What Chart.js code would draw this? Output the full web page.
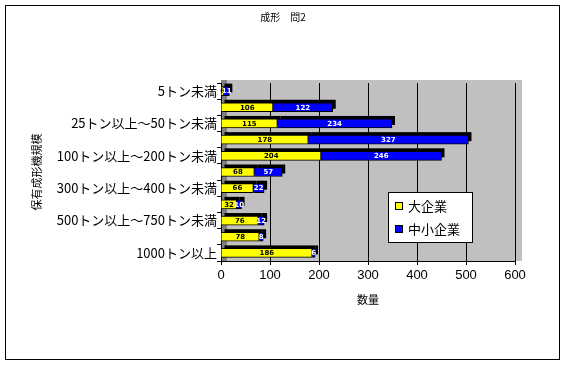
<!DOCTYPE html>
<html>
<head>
<meta charset="utf-8">
<script src="https://cdn.jsdelivr.net/npm/chart.js@4"></script>
<style>
  html, body { margin: 0; padding: 0; background: #fff; }
  #wrap { width: 566px; height: 367px; }
</style>
</head>
<body>
<div id="wrap"><canvas id="chart" width="566" height="367"></canvas></div>
<script>
// データ
const categories = [
    '5トン未満', '5トン以上～25トン未満', '25トン以上～50トン未満', '50トン以上～100トン未満',
    '100トン以上～200トン未満', '200トン以上～300トン未満', '300トン以上～400トン未満',
    '400トン以上～500トン未満', '500トン以上～750トン未満', '750トン以上～1000トン未満', '1000トン以上'
];
const largeFirms = [6, 106, 115, 178, 204, 68, 66, 32, 76, 78, 186];
const smallFirms = [11, 122, 234, 327, 246, 57, 22, 10, 12, 8, 6];
const xTicks = [0, 100, 200, 300, 400, 500, 600];
const chartTitle = '成形　問2';

const JP = '"Noto Sans CJK JP", "DejaVu Sans", sans-serif';

// 枠・背景・ラベル・凡例
const framePlugin = {
    id: 'frame',
    beforeDraw(chart) {
        const { ctx, chartArea: a } = chart;
        ctx.save();
        ctx.fillStyle = '#fff';
        ctx.fillRect(0, 0, chart.width, chart.height);
        ctx.strokeStyle = '#000';
        ctx.lineWidth = 1;
        ctx.strokeRect(5.5, 5.5, 554, 354);
        // タイトル
        ctx.fillStyle = '#000';
        ctx.font = '10px ' + JP;
        ctx.textAlign = 'center';
        ctx.textBaseline = 'middle';
        ctx.fillText(chartTitle, 283, 17);
        // 壁
        ctx.fillStyle = '#c0c0c0';
        ctx.fillRect(a.left, a.top - 3, a.right - a.left + 7, a.bottom - a.top + 3);
        ctx.fillStyle = '#808080';
        ctx.fillRect(a.left, a.top - 3, 6, a.bottom - a.top + 3);
        ctx.restore();
    },
    beforeDatasetsDraw(chart) {
        // 立体の影
        const { ctx } = chart;
        ctx.save();
        ctx.fillStyle = '#000';
        chart.data.datasets.forEach((ds, di) => {
            chart.getDatasetMeta(di).data.forEach(bar => {
                const h = bar.height;
                const x0 = Math.min(bar.base, bar.x);
                const w = Math.abs(bar.x - bar.base);
                ctx.fillRect(x0 + 3, bar.y - h / 2 - 3, w, h);
            });
        });
        ctx.restore();
    },
    afterDatasetsDraw(chart) {
        // 値ラベル
        const { ctx } = chart;
        ctx.save();
        ctx.font = 'bold 7px "DejaVu Sans", sans-serif';
        ctx.textAlign = 'center';
        ctx.textBaseline = 'middle';
        chart.data.datasets.forEach((ds, di) => {
            ctx.fillStyle = di === 0 ? '#000' : '#fff';
            chart.getDatasetMeta(di).data.forEach((bar, i) => {
                const cx = (bar.base + bar.x) / 2;
                ctx.fillText(String(ds.data[i]), cx, bar.y + 0.5);
            });
        });
        ctx.restore();
    },
    afterDraw(chart) {
        // 凡例
        const { ctx } = chart;
        ctx.save();
        ctx.fillStyle = '#fff';
        ctx.fillRect(388, 192, 84, 50);
        ctx.strokeStyle = '#000';
        ctx.lineWidth = 1;
        ctx.strokeRect(388.5, 192.5, 84, 50);
        ctx.font = '13px ' + JP;
        ctx.textBaseline = 'middle';
        chart.data.datasets.forEach((ds, i) => {
            const y = 206 + i * 23;
            ctx.fillStyle = ds.backgroundColor;
            ctx.fillRect(395, y - 4, 8, 8);
            ctx.strokeRect(395.5, y - 3.5, 7, 7);
            ctx.fillStyle = '#000';
            ctx.fillText(ds.label, 408, y);
        });
        ctx.restore();
    }
};

new Chart(document.getElementById('chart'), {
    type: 'bar',
    data: {
        labels: categories,
        datasets: [
            { label: '大企業', data: largeFirms, backgroundColor: '#ffff00', borderColor: '#000', borderWidth: 1, barThickness: 9 },
            { label: '中小企業', data: smallFirms, backgroundColor: '#0000ff', borderColor: '#000', borderWidth: 1, barThickness: 9 }
        ]
    },
    options: {
        indexAxis: 'y',
        responsive: false,
        animation: false,
        layout: { padding: { top: 83, right: 51, bottom: 60, left: 0 } },
        plugins: {
            legend: { display: false },
            tooltip: { enabled: false },
            title: { display: false }
        },
        scales: {
            x: {
                stacked: true,
                min: 0,
                max: 600,
                afterBuildTicks: (scale) => { scale.ticks = xTicks.map(v => ({ value: v })); },
                afterFit: (scale) => { scale.height = 46; },
                ticks: { color: '#000', font: { family: '"Liberation Sans", sans-serif', size: 13 }, padding: 3 },
                grid: { color: '#000', tickLength: 4, drawOnChartArea: true },
                border: { color: '#000' },
                title: {
                    display: true,
                    text: '数量',
                    color: '#000',
                    font: { family: JP, size: 11 },
                    padding: { top: 0, bottom: 1 }
                }
            },
            y: {
                stacked: true,
                afterFit: (scale) => { scale.width = 221; },
                ticks: {
                    autoSkip: false,
                    color: '#000',
                    padding: 0,
                    font: { family: JP, size: 13 },
                    callback: (v, i) => (i % 2 === 0 ? categories[i] : '')
                },
                grid: { drawOnChartArea: false, color: '#000', tickLength: 4 },
                border: { color: '#000' },
                title: {
                    display: true,
                    text: '保有成形機規模',
                    color: '#000',
                    font: { family: JP, size: 11 },
                    padding: { top: 30, bottom: 0 }
                }
            }
        }
    },
    plugins: [framePlugin]
});
</script>
</body>
</html>
